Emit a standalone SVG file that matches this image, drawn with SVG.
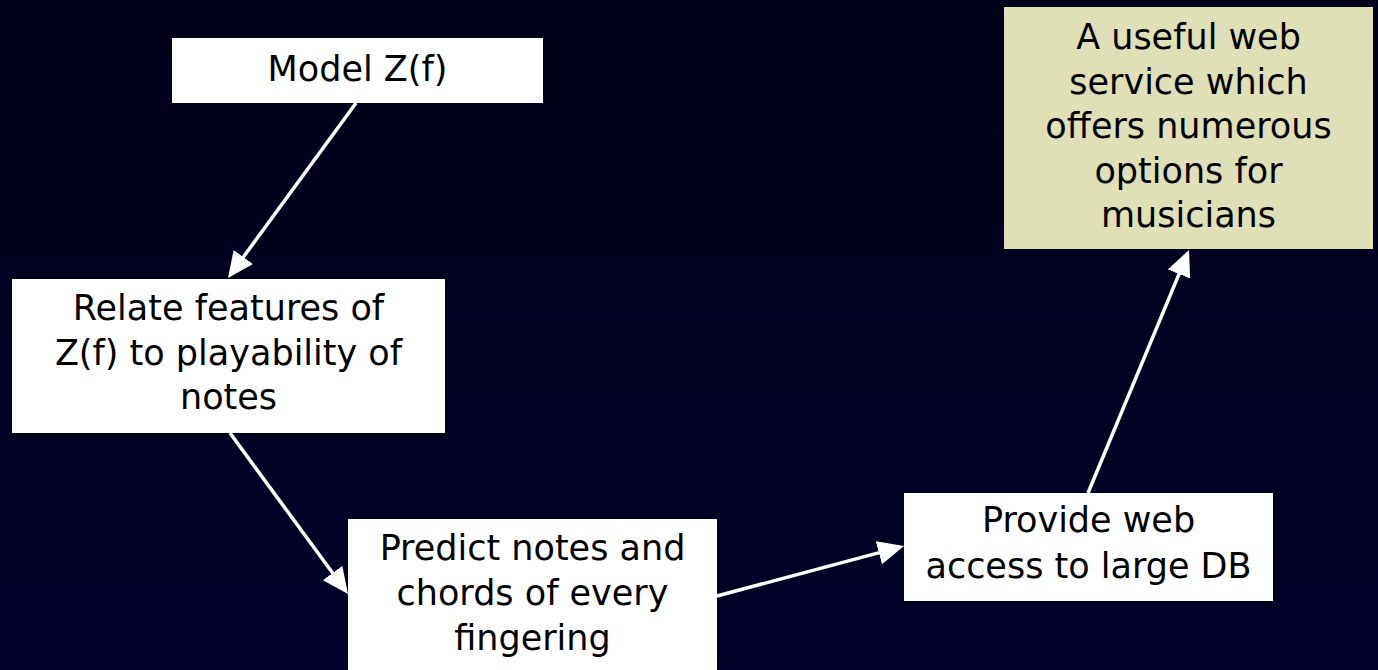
<svg xmlns="http://www.w3.org/2000/svg" width="1378" height="670" viewBox="0 0 1378 670">
<style>
.box{fill:#ffffff}
.goal{fill:#dfdfb8}
.lbl{font-family:"DejaVu Sans","Verdana",sans-serif;font-size:35px;fill:#000000;text-anchor:middle}
.conn{stroke:#ffffff;stroke-width:3.5;fill:none;marker-end:url(#ah)}
</style>
<defs>
<linearGradient id="bg" x1="0" y1="0" x2="0" y2="1">
<stop offset="0" stop-color="#000018"/>
<stop offset="1" stop-color="#000028"/>
</linearGradient>
<marker id="ah" markerUnits="userSpaceOnUse" markerWidth="26" markerHeight="24" viewBox="0 0 26 24" refX="14" refY="12" orient="auto">
<path d="M0,0 L26,12 L0,24 z" fill="#ffffff"/>
</marker>
</defs>
<rect x="0" y="0" width="1378" height="670" fill="url(#bg)"/>
<g id="connectors">
<line class="conn" x1="356" y1="103" x2="235.1" y2="268.3"/>
<line class="conn" x1="230" y1="433" x2="340.9" y2="584.3"/>
<line class="conn" x1="717" y1="596" x2="892.4" y2="549.1"/>
<line class="conn" x1="1088" y1="493" x2="1184.4" y2="261.1"/>
</g>
<g id="model">
<rect class="box" x="172" y="38" width="371" height="65"/>
<text class="lbl" x="357.5" y="81">Model Z(f)</text>
</g>
<g id="relate">
<rect class="box" x="12" y="279" width="433" height="154"/>
<text class="lbl" x="228.5" y="320">Relate features of</text>
<text class="lbl" x="228.5" y="364.5">Z(f) to playability of</text>
<text class="lbl" x="228.5" y="409">notes</text>
</g>
<g id="predict">
<rect class="box" x="348" y="519" width="369" height="151"/>
<text class="lbl" x="532.5" y="560">Predict notes and</text>
<text class="lbl" x="532.5" y="605">chords of every</text>
<text class="lbl" x="532.5" y="650">fingering</text>
</g>
<g id="provide">
<rect class="box" x="904" y="493" width="369" height="108"/>
<text class="lbl" x="1088.5" y="532">Provide web</text>
<text class="lbl" x="1088.5" y="578">access to large DB</text>
</g>
<g id="goal">
<rect class="goal" x="1004" y="7" width="369" height="242"/>
<text class="lbl" x="1188.5" y="49">A useful web</text>
<text class="lbl" x="1188.5" y="93.5">service which</text>
<text class="lbl" x="1188.5" y="138">offers numerous</text>
<text class="lbl" x="1188.5" y="182.5">options for</text>
<text class="lbl" x="1188.5" y="227">musicians</text>
</g>
</svg>
